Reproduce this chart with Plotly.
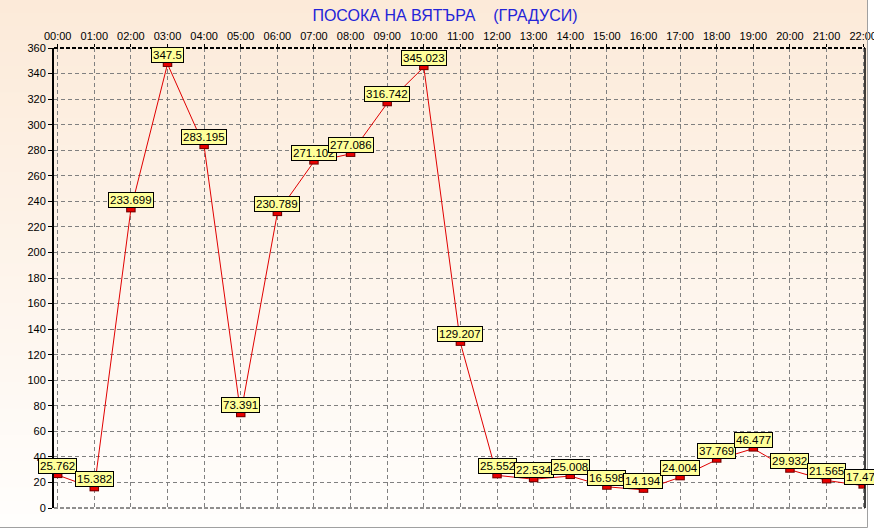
import plotly.graph_objects as go

hours = ["00:00", "01:00", "02:00", "03:00", "04:00", "05:00", "06:00", "07:00",
         "08:00", "09:00", "10:00", "11:00", "12:00", "13:00", "14:00", "15:00",
         "16:00", "17:00", "18:00", "19:00", "20:00", "21:00", "22:00"]
direction = [25.762, 15.382, 233.699, 347.5, 283.195, 73.391, 230.789, 271.102,
             277.086, 316.742, 345.023, 129.207, 25.552, 22.534, 25.008, 16.598,
             14.194, 24.004, 37.769, 46.477, 29.932, 21.565, 17.475]
y_ticks = list(range(0, 361, 20))
title_text = "ПОСОКА НА ВЯТЪРА\u00a0\u00a0\u00a0\u00a0(ГРАДУСИ)"

W, H = 874, 529
L, R, T, B = 54, 9, 48, 21
pw, ph = W - L - R, H - T - B

x_idx = list(range(len(hours)))

fig = go.Figure()
fig.add_trace(go.Scatter(x=x_idx, y=direction, mode="lines",
                         line=dict(color="#E00000", width=1), hoverinfo="skip",
                         showlegend=False))
# rectangular markers (outer dark border + red fill) drawn with error bars
fig.add_trace(go.Scatter(x=x_idx, y=direction, mode="markers",
                         marker=dict(size=1, opacity=0), showlegend=False,
                         error_x=dict(type="constant", value=0.13, thickness=6,
                                      width=0, color="#700000")))
fig.add_trace(go.Scatter(x=x_idx, y=direction, mode="markers",
                         marker=dict(size=1, opacity=0), showlegend=False,
                         error_x=dict(type="constant", value=0.10, thickness=4,
                                      width=0, color="#E80000")))

for i, v in enumerate(direction):
    fig.add_annotation(x=i, y=v, text=f"{v:g}", showarrow=False,
                       xanchor="center", yanchor="bottom", yshift=1,
                       font=dict(family="Liberation Sans, Arial", size=11.5, color="black"),
                       bgcolor="#FFFF99", bordercolor="black", borderwidth=1,
                       borderpad=1)

# background gradient bands (peach top -> white bottom)
shapes = []
n = 40
top_c = (252, 234, 217)
bot_c = (255, 254, 252)
y_end = 527
for k in range(n):
    f = k / (n - 1)
    c = tuple(round(top_c[j] + (bot_c[j] - top_c[j]) * f) for j in range(3))
    py0 = y_end * k / n
    py1 = y_end * (k + 1) / n + 1
    shapes.append(dict(type="rect", xref="paper", yref="paper", layer="below",
                       x0=(0 - L) / pw, x1=(868 - L) / pw,
                       y0=(H - B - py1) / ph, y1=(H - B - py0) / ph,
                       line=dict(width=0), fillcolor="rgb(%d,%d,%d)" % c))
# outer frame
shapes.append(dict(type="line", xref="paper", yref="paper", layer="above",
                   x0=(0 - L) / pw, x1=(867.5 - L) / pw,
                   y0=(H - B - 527.5) / ph, y1=(H - B - 527.5) / ph,
                   line=dict(color="#A0A0A0", width=1)))
shapes.append(dict(type="line", xref="paper", yref="paper", layer="above",
                   x0=(867.5 - L) / pw, x1=(867.5 - L) / pw,
                   y0=(H - B - 527.5) / ph, y1=(H - B - 0) / ph,
                   line=dict(color="#A0A0A0", width=1)))
# plot borders
shapes.append(dict(type="line", xref="paper", yref="paper", layer="above",
                   x0=0, x1=1, y0=1, y1=1,
                   line=dict(color="black", width=2, dash="4px,2px")))
shapes.append(dict(type="line", xref="paper", yref="paper", layer="above",
                   x0=0, x1=1, y0=0, y1=0,
                   line=dict(color="#202020", width=1, dash="4px,2px")))
shapes.append(dict(type="line", xref="paper", yref="paper", layer="above",
                   x0=1, x1=1, y0=0, y1=1,
                   line=dict(color="black", width=1.5)))

fig.update_layout(
    width=W, height=H,
    margin=dict(l=L, r=R, t=T, b=B, pad=0, autoexpand=False),
    paper_bgcolor="#FFFFFF",
    plot_bgcolor="rgba(0,0,0,0)",
    showlegend=False,
    shapes=shapes,
    font=dict(family="Liberation Sans, Arial", size=11, color="black"),
    title=dict(text=title_text, xref="container", yref="container",
               x=445 / W, y=1 - 15 / H, xanchor="center", yanchor="middle",
               font=dict(family="Liberation Sans, Arial", size=16, color="#2424D8")),
)
fig.update_xaxes(range=[-0.1, 22.05], side="top", tickmode="array",
                 tickvals=x_idx, ticktext=hours, ticks="outside", ticklen=3,
                 tickcolor="black", showgrid=True, gridcolor="#808080",
                 griddash="4px,3px", gridwidth=1, zeroline=False,
                 showline=False, fixedrange=True, automargin=False,
                 ticklabeloverflow="allow")
fig.update_yaxes(range=[0, 360], tickmode="array", tickvals=y_ticks,
                 ticks="outside", ticklen=4, tickcolor="black",
                 showgrid=True, gridcolor="#808080", griddash="4px,3px",
                 gridwidth=1, zeroline=False, showline=True, linecolor="black",
                 linewidth=2, fixedrange=True, automargin=False,
                 ticklabeloverflow="allow")

fig.write_html("out.html", config={"displayModeBar": False},
               post_script="document.body.style.margin='0';document.body.style.overflow='hidden';")
